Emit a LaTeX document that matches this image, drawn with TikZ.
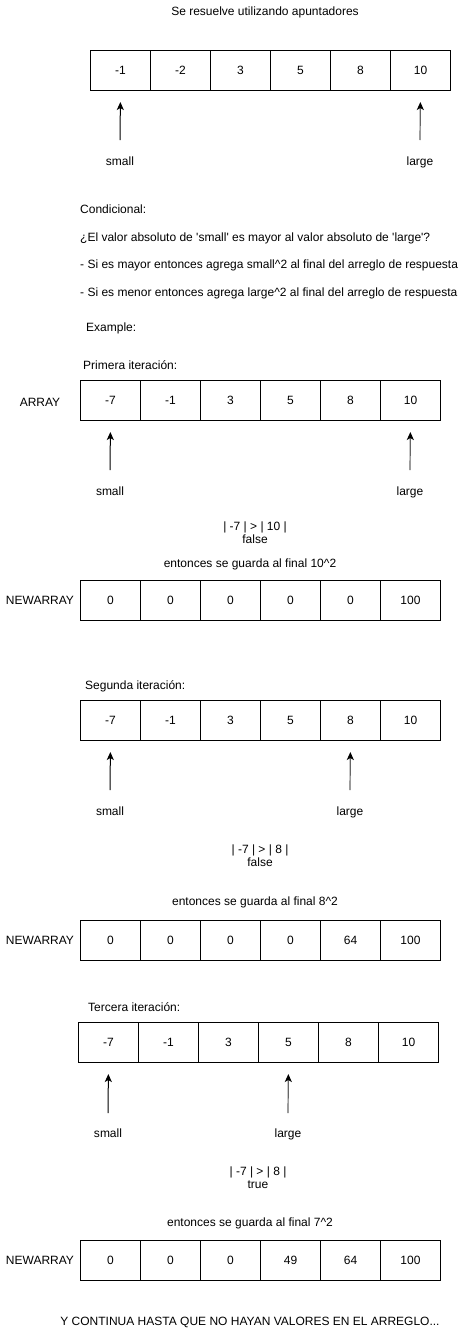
\documentclass[tikz,border=0pt]{standalone}
\usepackage{fontspec}
\newfontfamily\diafont{Liberation Sans}
\usetikzlibrary{arrows.meta}

% one row of six boxed values; nodes are named <name>-1 ... <name>-6
\newcommand\valuerow[4]{%
  \foreach \v [count=\i] in {#4} {%
    \node[cell] (#1-\i) at ({#2+60*(\i-1)},#3) {\v};
  }%
}

\begin{document}
\begin{tikzpicture}[x=1pt,y=-1pt,
  every node/.style={font=\diafont\fontsize{12}{13.5}\selectfont, inner sep=0pt},
  cell/.style={draw, line width=1pt, minimum width=60pt, minimum height=40pt, anchor=north west},
  txt/.style={anchor=base, align=center},
  note/.style={anchor=base west},
  ptr/.style={line width=1pt, -{Stealth[length=8pt,width=7pt,inset=2pt]}, shorten >=11pt},
  ptrgray/.style={ptr, line width=1.2pt, draw=black!60, -{Stealth[length=8pt,width=7pt,inset=2pt,color=black]}}]

\useasboundingbox (0,0) rectangle (466,1331);

% ---------- introduction ----------
\node[txt] (title) at (265,15) {Se resuelve utilizando apuntadores};
\valuerow{top}{90}{50}{-1,-2,3,5,8,10}
\node[txt] (smallA) at (120,165) {small};
\node[txt] (largeA) at (420,165) {large};
\coordinate (smallAtail) at (120,140);
\coordinate (largeAtail) at (420,140);
\draw[ptr] (smallAtail) -- (top-1.south);
\draw[ptrgray] (largeAtail) -- (top-6.south);

\node[note] (cond) at (80,213) {Condicional:};
\node[note] (question) at (80,241) {¿El valor absoluto de \textquotesingle small\textquotesingle{} es mayor al valor absoluto de \textquotesingle large\textquotesingle?};
\node[note] (ruleA) at (80,268) {- Si es mayor entonces agrega small\textasciicircum 2 al final del arreglo de respuesta};
\node[note] (ruleB) at (80,296) {- Si es menor entonces agrega large\textasciicircum 2 al final del arreglo de respuesta};
\node[note] (example) at (86,331) {Example:};

% ---------- first iteration ----------
\node[note] (iterA) at (83,369) {Primera iteración:};
\node[txt] (arrLabel) at (40,406) {ARRAY};
\valuerow{itA}{80}{380}{-7,-1,3,5,8,10}
\node[txt] (smallB) at (110,495) {small};
\node[txt] (largeB) at (410,495) {large};
\coordinate (smallBtail) at (110,470);
\coordinate (largeBtail) at (410,470);
\draw[ptr] (smallBtail) -- (itA-1.south);
\draw[ptrgray] (largeBtail) -- (itA-6.south);
\node[txt] (cmpA) at (255,543.5) {| -7 | > | 10 |\\false};
\node[txt] (saveA) at (250,567) {entonces se guarda al final 10\textasciicircum 2};
\node[txt] (newLabelA) at (40,604) {NEWARRAY};
\valuerow{nwA}{80}{580}{0,0,0,0,0,100}

% ---------- second iteration ----------
\node[note] (iterB) at (85,689) {Segunda iteración:};
\valuerow{itB}{80}{700}{-7,-1,3,5,8,10}
\node[txt] (smallC) at (110,815) {small};
\node[txt] (largeC) at (350,815) {large};
\coordinate (smallCtail) at (110,790);
\coordinate (largeCtail) at (350,790);
\draw[ptr] (smallCtail) -- (itB-1.south);
\draw[ptrgray] (largeCtail) -- (itB-5.south);
\node[txt] (cmpB) at (260,866.5) {| -7 | > | 8 |\\false};
\node[txt] (saveB) at (255,905) {entonces se guarda al final 8\textasciicircum 2};
\node[txt] (newLabelB) at (40,944) {NEWARRAY};
\valuerow{nwB}{80}{920}{0,0,0,0,64,100}

% ---------- third iteration ----------
\node[note] (iterC) at (88,1011) {Tercera iteración:};
\valuerow{itC}{78}{1022}{-7,-1,3,5,8,10}
\node[txt] (smallD) at (108,1137) {small};
\node[txt] (largeD) at (288,1137) {large};
\coordinate (smallDtail) at (108,1113);
\coordinate (largeDtail) at (288,1113);
\draw[ptr] (smallDtail) -- (itC-1.south);
\draw[ptrgray] (largeDtail) -- (itC-4.south);
\node[txt] (cmpC) at (258,1188.5) {| -7 | > | 8 |\\true};
\node[txt] (saveC) at (250,1226) {entonces se guarda al final 7\textasciicircum 2};
\node[txt] (newLabelC) at (40,1264) {NEWARRAY};
\valuerow{nwC}{80}{1240}{0,0,0,49,64,100}

\node[txt] (closing) at (250,1325) {Y CONTINUA HASTA QUE NO HAYAN VALORES EN EL ARREGLO...};
\end{tikzpicture}
\end{document}
